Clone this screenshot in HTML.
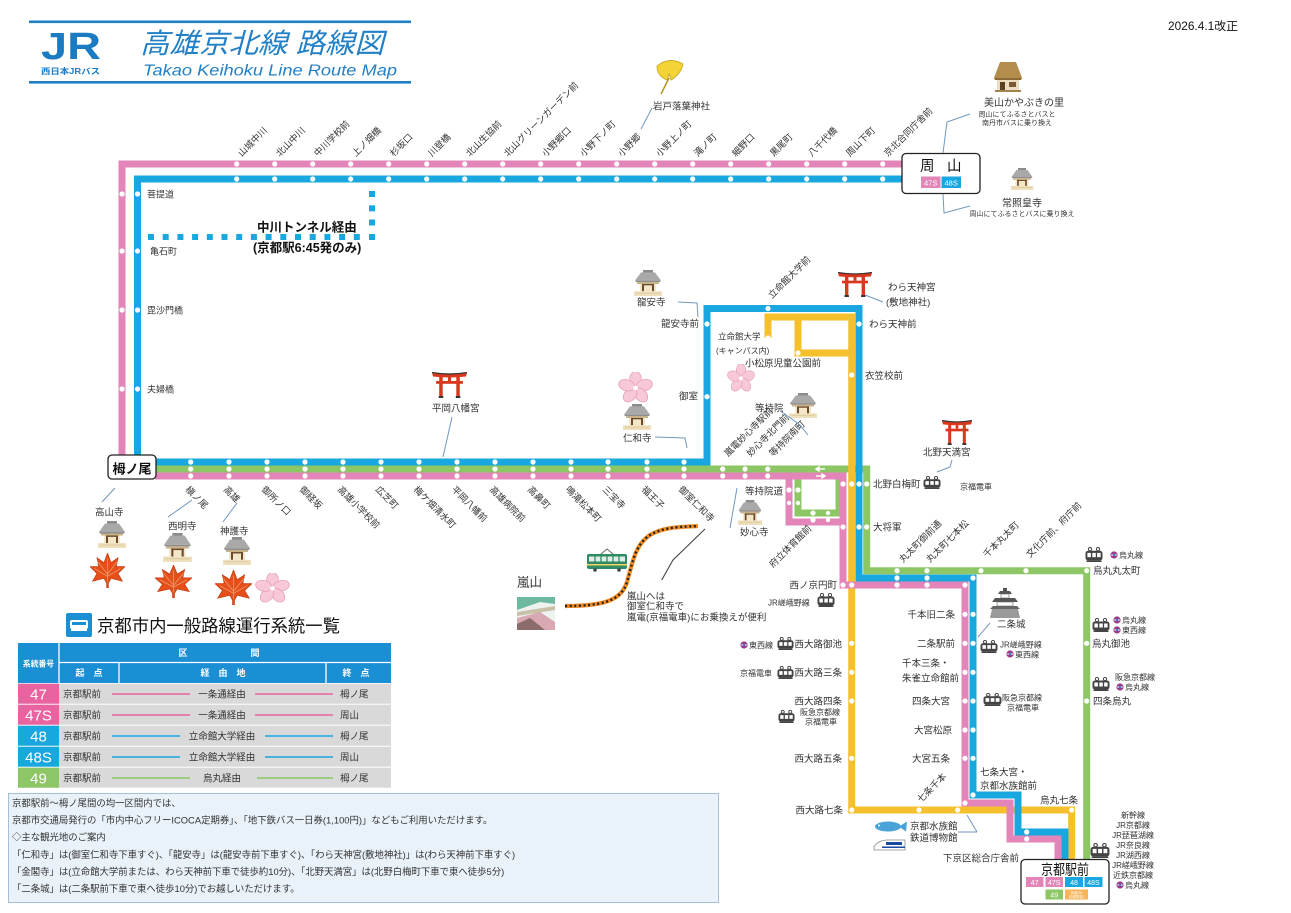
<!DOCTYPE html>
<html><head><meta charset="utf-8"><title>高雄京北線 路線図</title>
<style>
html,body{margin:0;padding:0;background:#fff;width:1291px;height:913px;overflow:hidden}
svg{display:block}
text{font-family:"Liberation Sans","Noto Sans CJK JP",sans-serif;fill:#333}
.l{font-size:9.2px}
.m{font-size:9.5px}
.s{font-size:8px}
.xs{font-size:7px}
.w{fill:#fff}
</style></head><body>
<svg width="1291" height="913" viewBox="0 0 1291 913" xmlns="http://www.w3.org/2000/svg">
<defs>
<symbol id="temple" viewBox="0 0 30 27" preserveAspectRatio="none">
<rect x="10" y="0" width="10" height="3" fill="#8c8c8c"/>
<path d="M2 11 L8 2.5 L22 2.5 L28 11 Z" fill="#a9a9a9"/>
<path d="M2 11 L28 11 L27 12.5 L3 12.5Z" fill="#8d8d8d"/>
<rect x="4" y="12.5" width="22" height="2" fill="#c8b186"/>
<rect x="7" y="14.5" width="16" height="7.5" fill="#f4e6c8"/>
<rect x="9" y="14.5" width="2" height="7.5" fill="#6b4a2a"/>
<rect x="19" y="14.5" width="2" height="7.5" fill="#6b4a2a"/>
<rect x="9" y="14.5" width="12" height="1.4" fill="#6b4a2a"/>
<rect x="1" y="22" width="28" height="5" fill="#efdfbd"/>
<path d="M3 24 H27" stroke="#d8c497" stroke-width="0.8"/>
</symbol>
<symbol id="torii" viewBox="0 0 34 26" preserveAspectRatio="none">
<path d="M0 0.5 Q17 3.5 34 0.5 L33 4.5 Q17 6.5 1 4.5 Z" fill="#d9381e"/>
<path d="M0 0.5 Q17 3.5 34 0.5" stroke="#333" stroke-width="1.2" fill="none"/>
<rect x="4" y="9" width="26" height="2.8" fill="#d9381e"/>
<rect x="7" y="5" width="3.4" height="21" fill="#d9381e"/>
<rect x="23.6" y="5" width="3.4" height="21" fill="#d9381e"/>
<rect x="15.5" y="5" width="3" height="4" fill="#d9381e"/>
<rect x="6.5" y="24" width="4.4" height="2" fill="#333"/>
<rect x="23.1" y="24" width="4.4" height="2" fill="#333"/>
</symbol>
<symbol id="maple" viewBox="0 0 40 36" preserveAspectRatio="none">
<path d="M20 0 L24 10 L32 5 L30 14 L40 14 L32 21 L37 29 L24 26 L21 31 L21 36 L19 36 L19 31 L16 26 L3 29 L8 21 L0 14 L10 14 L8 5 L16 10 Z" fill="#e5501a" stroke="#c63b10" stroke-width="0.8"/>
<path d="M20 30 L20 6 M20 22 L31 9 M20 22 L9 9 M20 24 L35 16 M20 24 L5 16" stroke="#f3a070" stroke-width="0.8" fill="none"/>
</symbol>
<symbol id="sakura" viewBox="0 0 36 34" preserveAspectRatio="none">
<g fill="#f7c9d8" stroke="#e79ab6" stroke-width="0.8">
<ellipse cx="18" cy="8" rx="6" ry="8.5"/>
<ellipse cx="18" cy="8" rx="6" ry="8.5" transform="rotate(72 18 17.5)"/>
<ellipse cx="18" cy="8" rx="6" ry="8.5" transform="rotate(144 18 17.5)"/>
<ellipse cx="18" cy="8" rx="6" ry="8.5" transform="rotate(216 18 17.5)"/>
<ellipse cx="18" cy="8" rx="6" ry="8.5" transform="rotate(288 18 17.5)"/>
</g>
<circle cx="18" cy="17.5" r="2.5" fill="#fff"/>
</symbol>
<symbol id="train" viewBox="0 0 18 14" preserveAspectRatio="none">
<circle cx="5" cy="2" r="1.6" fill="none" stroke="#444" stroke-width="1"/>
<circle cx="13" cy="2" r="1.6" fill="none" stroke="#444" stroke-width="1"/>
<rect x="0.5" y="3.5" width="17" height="9" rx="2.5" fill="#444"/>
<rect x="2.4" y="5.5" width="3.5" height="4" fill="#fff"/>
<rect x="7.3" y="5.5" width="3.5" height="4" fill="#fff"/>
<rect x="12.1" y="5.5" width="3.5" height="4" fill="#fff"/>
<rect x="1.5" y="12.5" width="15" height="1.5" fill="#444"/>
</symbol>
<symbol id="sub" viewBox="0 0 8 8">
<circle cx="4" cy="4" r="3.6" fill="#9b3c84"/>
<path d="M1.3 4 H6.7" stroke="#fff" stroke-width="1.2"/>
<circle cx="4" cy="4" r="1.2" fill="#3b7bd0"/>
</symbol>
</defs>

<!-- Header -->
<rect x="29" y="20.5" width="382" height="2.6" fill="#1f7ec2"/>
<rect x="29" y="81" width="382" height="2.6" fill="#1f7ec2"/>
<text x="41" y="59" font-size="38" font-weight="bold" textLength="60" lengthAdjust="spacingAndGlyphs" style="fill:#1b7bc2">JR</text>
<text x="41" y="74" font-size="8" font-weight="bold" textLength="59" lengthAdjust="spacingAndGlyphs" style="fill:#1b7bc2">西日本JRバス</text>
<text x="140" y="53" font-size="28" font-style="italic" textLength="244" lengthAdjust="spacingAndGlyphs" style="fill:#2280c6">高雄京北線 路線図</text>
<text x="143" y="75.5" font-size="15.5" font-style="italic" textLength="254" lengthAdjust="spacingAndGlyphs" style="fill:#2280c6">Takao Keihoku Line Route Map</text>
<text x="1168" y="30" font-size="11.5" textLength="70" lengthAdjust="spacingAndGlyphs" style="fill:#111">2026.4.1改正</text>

<!-- Route lines -->
<g fill="none" stroke-width="7" stroke-linejoin="miter" stroke-linecap="butt">
<path d="M155 469 H866.7 V570.7 H1086.7 V860" stroke="#8dc765"/>
<path d="M798 469 V513 H839 V469" stroke="#8dc765"/>
<path d="M768 338 V317 H851.7 V810 H1071.7 V860" stroke="#f6bf2c"/>
<path d="M798 317 V353 H851.7" stroke="#f6bf2c"/>
<path d="M902 164 H122 V455" stroke="#e385b8"/>
<path d="M155 476 H843 V585 H965 V803 H1010 V839 H1058 V860" stroke="#e385b8"/>
<path d="M789 476 V522 H843" stroke="#e385b8"/>
<path d="M902 179 H137.5 V462 H707 V308.5 H859 V578 H973 V795 H1018 V832 H1065 V860" stroke="#19a7df"/>
</g>
<!-- tunnel dotted -->
<g fill="#19a7df">
<rect x="148" y="234" width="6" height="6"/><rect x="162.7" y="234" width="6" height="6"/><rect x="177.4" y="234" width="6" height="6"/><rect x="192.1" y="234" width="6" height="6"/><rect x="206.8" y="234" width="6" height="6"/><rect x="221.5" y="234" width="6" height="6"/><rect x="236.2" y="234" width="6" height="6"/><rect x="250.9" y="234" width="6" height="6"/><rect x="265.6" y="234" width="6" height="6"/><rect x="280.3" y="234" width="6" height="6"/><rect x="295" y="234" width="6" height="6"/><rect x="309.7" y="234" width="6" height="6"/><rect x="324.4" y="234" width="6" height="6"/><rect x="339.1" y="234" width="6" height="6"/><rect x="353.8" y="234" width="6" height="6"/><rect x="369" y="234" width="6" height="6"/>
<rect x="369" y="191" width="6" height="6"/><rect x="369" y="205.3" width="6" height="6"/><rect x="369" y="219.5" width="6" height="6"/>
</g>
<text x="257" y="231.5" font-size="12.5" font-weight="bold" style="fill:#111">中川トンネル経由</text>
<text x="253" y="252" font-size="12.5" font-weight="bold" style="fill:#111">(京都駅6:45発のみ)</text>

<!-- Stop dots -->
<g fill="#fff">
<circle cx="236.7" cy="164" r="2.6"/><circle cx="274.7" cy="164" r="2.6"/><circle cx="312.7" cy="164" r="2.6"/><circle cx="350.7" cy="164" r="2.6"/><circle cx="388.7" cy="164" r="2.6"/><circle cx="426.7" cy="164" r="2.6"/><circle cx="464.7" cy="164" r="2.6"/><circle cx="502.7" cy="164" r="2.6"/><circle cx="540.7" cy="164" r="2.6"/><circle cx="578.7" cy="164" r="2.6"/><circle cx="616.7" cy="164" r="2.6"/><circle cx="654.7" cy="164" r="2.6"/><circle cx="692.7" cy="164" r="2.6"/><circle cx="730.7" cy="164" r="2.6"/><circle cx="768.7" cy="164" r="2.6"/><circle cx="806.7" cy="164" r="2.6"/><circle cx="844.7" cy="164" r="2.6"/><circle cx="882.7" cy="164" r="2.6"/>
<circle cx="236.7" cy="179" r="2.6"/><circle cx="274.7" cy="179" r="2.6"/><circle cx="312.7" cy="179" r="2.6"/><circle cx="350.7" cy="179" r="2.6"/><circle cx="388.7" cy="179" r="2.6"/><circle cx="426.7" cy="179" r="2.6"/><circle cx="464.7" cy="179" r="2.6"/><circle cx="502.7" cy="179" r="2.6"/><circle cx="540.7" cy="179" r="2.6"/><circle cx="578.7" cy="179" r="2.6"/><circle cx="616.7" cy="179" r="2.6"/><circle cx="654.7" cy="179" r="2.6"/><circle cx="692.7" cy="179" r="2.6"/><circle cx="730.7" cy="179" r="2.6"/><circle cx="768.7" cy="179" r="2.6"/><circle cx="806.7" cy="179" r="2.6"/><circle cx="844.7" cy="179" r="2.6"/><circle cx="882.7" cy="179" r="2.6"/>
<circle cx="122" cy="194" r="2.6"/><circle cx="137.5" cy="194" r="2.6"/><circle cx="122" cy="251" r="2.6"/><circle cx="137.5" cy="251" r="2.6"/><circle cx="122" cy="310" r="2.6"/><circle cx="137.5" cy="310" r="2.6"/><circle cx="122" cy="389" r="2.6"/><circle cx="137.5" cy="389" r="2.6"/>
<circle cx="190.7" cy="462" r="2.6"/><circle cx="229" cy="462" r="2.6"/><circle cx="267" cy="462" r="2.6"/><circle cx="305" cy="462" r="2.6"/><circle cx="343" cy="462" r="2.6"/><circle cx="381" cy="462" r="2.6"/><circle cx="419" cy="462" r="2.6"/><circle cx="457" cy="462" r="2.6"/><circle cx="495" cy="462" r="2.6"/><circle cx="533" cy="462" r="2.6"/><circle cx="571" cy="462" r="2.6"/><circle cx="608" cy="462" r="2.6"/><circle cx="647" cy="462" r="2.6"/><circle cx="684" cy="462" r="2.6"/>
<circle cx="190.7" cy="469" r="2.6"/><circle cx="229" cy="469" r="2.6"/><circle cx="267" cy="469" r="2.6"/><circle cx="305" cy="469" r="2.6"/><circle cx="343" cy="469" r="2.6"/><circle cx="381" cy="469" r="2.6"/><circle cx="419" cy="469" r="2.6"/><circle cx="457" cy="469" r="2.6"/><circle cx="495" cy="469" r="2.6"/><circle cx="533" cy="469" r="2.6"/><circle cx="571" cy="469" r="2.6"/><circle cx="608" cy="469" r="2.6"/><circle cx="647" cy="469" r="2.6"/><circle cx="684" cy="469" r="2.6"/><circle cx="722.7" cy="469" r="2.6"/><circle cx="745" cy="469" r="2.6"/><circle cx="767.7" cy="469" r="2.6"/>
<circle cx="190.7" cy="476" r="2.6"/><circle cx="229" cy="476" r="2.6"/><circle cx="267" cy="476" r="2.6"/><circle cx="305" cy="476" r="2.6"/><circle cx="343" cy="476" r="2.6"/><circle cx="381" cy="476" r="2.6"/><circle cx="419" cy="476" r="2.6"/><circle cx="457" cy="476" r="2.6"/><circle cx="495" cy="476" r="2.6"/><circle cx="533" cy="476" r="2.6"/><circle cx="571" cy="476" r="2.6"/><circle cx="608" cy="476" r="2.6"/><circle cx="647" cy="476" r="2.6"/><circle cx="684" cy="476" r="2.6"/><circle cx="722.7" cy="476" r="2.6"/><circle cx="745" cy="476" r="2.6"/><circle cx="767.7" cy="476" r="2.6"/>
<circle cx="707" cy="324" r="2.6"/><circle cx="707" cy="396.7" r="2.6"/><circle cx="768" cy="308.5" r="2.6"/><circle cx="859" cy="324" r="2.6"/>
<circle cx="768" cy="338" r="2.6"/><circle cx="798" cy="353" r="2.6"/><circle cx="851.7" cy="375" r="2.6"/>
<circle cx="789" cy="490" r="2.6"/><circle cx="798" cy="490" r="2.6"/><circle cx="789" cy="503" r="2.2"/><circle cx="798" cy="503" r="2.2"/><circle cx="813" cy="513" r="2.6"/><circle cx="828" cy="513" r="2.2"/><circle cx="813" cy="520" r="2.6"/><circle cx="828" cy="520" r="2.2"/>
<circle cx="843" cy="484" r="2.6"/><circle cx="851.7" cy="484" r="2.6"/><circle cx="859" cy="484" r="2.6"/><circle cx="866.7" cy="484" r="2.6"/>
<circle cx="843" cy="527" r="2.6"/><circle cx="859" cy="527" r="2.6"/><circle cx="866.7" cy="527" r="2.6"/>
<circle cx="843" cy="585" r="2.6"/><circle cx="851.7" cy="585" r="2.6"/>
<circle cx="897" cy="570.7" r="2.6"/><circle cx="897" cy="578" r="2.6"/><circle cx="897" cy="585" r="2.6"/>
<circle cx="927" cy="570.7" r="2.6"/><circle cx="927" cy="578" r="2.6"/><circle cx="927" cy="585" r="2.6"/>
<circle cx="981" cy="570.7" r="2.6"/><circle cx="973" cy="578" r="2.6"/><circle cx="965" cy="585" r="2.6"/>
<circle cx="1026" cy="570.7" r="2.6"/><circle cx="1086.7" cy="570.7" r="2.6"/>
<circle cx="965" cy="614.3" r="2.6"/><circle cx="973" cy="614.3" r="2.6"/><circle cx="965" cy="643.3" r="2.6"/><circle cx="973" cy="643.3" r="2.6"/><circle cx="965" cy="672.3" r="2.6"/><circle cx="973" cy="672.3" r="2.6"/><circle cx="965" cy="701" r="2.6"/><circle cx="973" cy="701" r="2.6"/><circle cx="965" cy="730" r="2.6"/><circle cx="973" cy="730" r="2.6"/><circle cx="965" cy="758.3" r="2.6"/><circle cx="973" cy="758.3" r="2.6"/>
<circle cx="851.7" cy="643.3" r="2.6"/><circle cx="851.7" cy="672.3" r="2.6"/><circle cx="851.7" cy="701" r="2.6"/><circle cx="851.7" cy="758.3" r="2.6"/><circle cx="851.7" cy="810" r="2.6"/>
<circle cx="919" cy="810" r="2.6"/><circle cx="957.7" cy="810" r="2.6"/>
<circle cx="973" cy="795" r="2.6"/><circle cx="965" cy="803" r="2.6"/>
<circle cx="1026.7" cy="832" r="2.6"/><circle cx="1026.7" cy="839" r="2.6"/>
<circle cx="1071.7" cy="810" r="2.6"/>
<circle cx="1086.7" cy="643.3" r="2.6"/><circle cx="1086.7" cy="701" r="2.6"/>
</g>
<!-- small arrows on main line -->
<g stroke="#fff" stroke-width="1.4" fill="#fff">
<path d="M816 469 H825"/><path d="M816 469 L819 467 L819 471Z"/>
<path d="M816 476 H825"/><path d="M825 476 L822 474 L822 478Z"/>
</g>

<!-- Terminal boxes -->
<rect x="902" y="153.5" width="78" height="40" rx="4" fill="#fff" stroke="#222" stroke-width="1.3"/>
<text x="920" y="171" font-size="14.5" style="fill:#111">周</text>
<text x="947" y="171" font-size="14.5" style="fill:#111">山</text>
<rect x="921" y="176.5" width="19.5" height="11.5" fill="#e385b8"/>
<rect x="941.5" y="176.5" width="19.5" height="11.5" fill="#19a7df"/>
<text x="930.7" y="185.3" font-size="7.5" text-anchor="middle" class="w">47S</text>
<text x="951.2" y="185.3" font-size="7.5" text-anchor="middle" class="w">48S</text>

<rect x="108" y="455" width="48" height="24" rx="4" fill="#fff" stroke="#222" stroke-width="1.3"/>
<text x="132" y="473.5" font-size="13" font-weight="bold" text-anchor="middle" style="fill:#111">栂ノ尾</text>

<rect x="1021" y="859.5" width="88" height="44.5" rx="4" fill="#fff" stroke="#222" stroke-width="1.3"/>
<text x="1041" y="875" font-size="14.5" textLength="48" lengthAdjust="spacingAndGlyphs" style="fill:#111">京都駅前</text>
<rect x="1026" y="877" width="17.5" height="10" fill="#e385b8"/>
<rect x="1045.5" y="877" width="17.5" height="10" fill="#e385b8"/>
<rect x="1065" y="877" width="18" height="10" fill="#19a7df"/>
<rect x="1084.5" y="877" width="18" height="10" fill="#19a7df"/>
<rect x="1045.5" y="889.5" width="17.5" height="10" fill="#8dc765"/>
<rect x="1065" y="889.5" width="23" height="10" fill="#f6b55a"/>
<g font-size="7" text-anchor="middle">
<text x="1034.7" y="885" class="w">47</text><text x="1054.2" y="885" class="w">47S</text><text x="1074" y="885" class="w">48</text><text x="1093.5" y="885" class="w">48S</text><text x="1054.2" y="897.5" class="w">49</text>
</g>
<text x="1076.5" y="894" font-size="3.2" text-anchor="middle" class="w">快速205</text>
<text x="1076.5" y="898" font-size="3.2" text-anchor="middle" class="w">(京都駅前)</text>

<!-- Top labels -->
<g class="l">
<text transform="translate(241.7,157) rotate(-45)">山城中川</text>
<text transform="translate(279.7,157) rotate(-45)">北山中川</text>
<text transform="translate(317.7,157) rotate(-45)">中川学校前</text>
<text transform="translate(355.7,157) rotate(-45)">上ノ畑橋</text>
<text transform="translate(393.7,157) rotate(-45)">杉坂口</text>
<text transform="translate(431.7,157) rotate(-45)">川登橋</text>
<text transform="translate(469.7,157) rotate(-45)">北山生協前</text>
<text transform="translate(507.7,157) rotate(-45)">北山グリーンガーデン前</text>
<text transform="translate(545.7,157) rotate(-45)">小野郷口</text>
<text transform="translate(583.7,157) rotate(-45)">小野下ノ町</text>
<text transform="translate(621.7,157) rotate(-45)">小野郷</text>
<text transform="translate(659.7,157) rotate(-45)">小野上ノ町</text>
<text transform="translate(697.7,157) rotate(-45)">滝ノ町</text>
<text transform="translate(735.7,157) rotate(-45)">細野口</text>
<text transform="translate(773.7,157) rotate(-45)">黒尾町</text>
<text transform="translate(811.7,157) rotate(-45)">八千代橋</text>
<text transform="translate(849.7,157) rotate(-45)">周山下町</text>
<text transform="translate(887.7,157) rotate(-45)">京北合同庁舎前</text>
</g>
<!-- left labels -->
<g font-size="9">
<text x="147" y="197.5">菩提道</text>
<text x="150" y="254.5">亀石町</text>
<text x="147" y="313.5">毘沙門橋</text>
<text x="147" y="392.5">夫婦橋</text>
</g>
<!-- bottom main labels -->
<g class="l">
<text transform="translate(184.7,490) rotate(45)">槇ノ尾</text>
<text transform="translate(223,490) rotate(45)">高雄</text>
<text transform="translate(261,490) rotate(45)">御所ノ口</text>
<text transform="translate(299,490) rotate(45)">御経坂</text>
<text transform="translate(337,490) rotate(45)">高雄小学校前</text>
<text transform="translate(375,490) rotate(45)">広芝町</text>
<text transform="translate(413,490) rotate(45)">梅ケ畑清水町</text>
<text transform="translate(451,490) rotate(45)">平岡八幡前</text>
<text transform="translate(489,490) rotate(45)">高雄病院前</text>
<text transform="translate(527,490) rotate(45)">高鼻町</text>
<text transform="translate(565,490) rotate(45)">鳴滝松本町</text>
<text transform="translate(602,490) rotate(45)">三宝寺</text>
<text transform="translate(641,490) rotate(45)">福王子</text>
<text transform="translate(678,490) rotate(45)">御室仁和寺</text>
<text transform="translate(728,457) rotate(-45)">嵐電妙心寺駅前</text>
<text transform="translate(750.5,457) rotate(-45)">妙心寺北門前</text>
<text transform="translate(773,457) rotate(-45)">等持院南町</text>
<text transform="translate(772,299) rotate(-45)">立命館大学前</text>
<text transform="translate(773,568) rotate(-45)">府立体育館前</text>
<text transform="translate(903,563) rotate(-45)">丸太町御前通</text>
<text transform="translate(930,563) rotate(-45)">丸太町七本松</text>
<text transform="translate(987,558) rotate(-45)">千本丸太町</text>
<text transform="translate(1030,558) rotate(-45)">文化庁前、府庁前</text>
<text transform="translate(921,803) rotate(-45)">七条千本</text>
</g>

<!-- straight labels -->
<g class="m">
<text x="699" y="327" text-anchor="end">龍安寺前</text>
<text x="698" y="399.5" text-anchor="end">御室</text>
<text x="869" y="327.5">わら天神前</text>
<text x="865" y="379">衣笠校前</text>
<text x="745" y="366.5">小松原児童公園前</text>
<text x="873" y="487.5">北野白梅町</text>
<text x="873" y="530.5">大将軍</text>
<text x="745" y="494.5">等持院道</text>
<text x="740" y="535.5">妙心寺</text>
<text x="837" y="588.5" text-anchor="end">西ノ京円町</text>
<text x="842" y="647.5" text-anchor="end">西大路御池</text>
<text x="842" y="675.8" text-anchor="end">西大路三条</text>
<text x="842" y="704.5" text-anchor="end">西大路四条</text>
<text x="842" y="762" text-anchor="end">西大路五条</text>
<text x="843" y="813.5" text-anchor="end">西大路七条</text>
<text x="955" y="617.8" text-anchor="end">千本旧二条</text>
<text x="955" y="646.8" text-anchor="end">二条駅前</text>
<text x="902" y="666.5">千本三条・</text>
<text x="902" y="681.5">朱雀立命館前</text>
<text x="950" y="704.5" text-anchor="end">四条大宮</text>
<text x="952" y="733.5" text-anchor="end">大宮松原</text>
<text x="950" y="761.8" text-anchor="end">大宮五条</text>
<text x="980" y="775.5">七条大宮・</text>
<text x="980" y="789">京都水族館前</text>
<text x="1040" y="803.5">烏丸七条</text>
<text x="943" y="861.5">下京区総合庁舎前</text>
<text x="910" y="829.5">京都水族館</text>
<text x="910" y="841">鉄道博物館</text>
<text x="997" y="627.5">二条城</text>
<text x="1093" y="573.8">烏丸丸太町</text>
<text x="1092" y="646.8">烏丸御池</text>
<text x="1093" y="704.5">四条烏丸</text>
<text x="95" y="515.5">高山寺</text>
<text x="168" y="529.5">西明寺</text>
<text x="220" y="534.5">神護寺</text>
<text x="432" y="411.5">平岡八幡宮</text>
<text x="637" y="305.5">龍安寺</text>
<text x="888" y="290.5">わら天神宮</text>
<text x="886" y="305.5">(敷地神社)</text>
<text x="623" y="441.5">仁和寺</text>
<text x="755" y="411.5">等持院</text>
<text x="923" y="455.5">北野天満宮</text>
<text x="653" y="109.5">岩戸落葉神社</text>
<text x="627" y="599.5">嵐山へは</text>
<text x="627" y="609.5">御室仁和寺で</text>
<text x="627" y="620.5">嵐電(京福電車)にお乗換えが便利</text>
</g>
<text x="718" y="339.5" font-size="8.5">立命館大学</text>
<text x="716" y="353.5" font-size="8">(キャンパス内)</text>
<text x="984" y="106" font-size="10">美山かやぶきの里</text>
<text x="1017" y="116.5" class="xs" text-anchor="middle">周山にてふるさとバスと</text>
<text x="1017" y="125" class="xs" text-anchor="middle">南丹市バスに乗り換え</text>
<text x="1022" y="206.5" font-size="10" text-anchor="middle">常照皇寺</text>
<text x="1022" y="216" class="xs" text-anchor="middle">周山にてふるさとバスに乗り換え</text>
<text x="517" y="586.5" font-size="12.5">嵐山</text>

<!-- railway transfer small labels -->
<g class="s">
<text x="960" y="489.5">京福電車</text>
<text x="768" y="605.5">JR嵯峨野線</text>
<text x="749" y="648">東西線</text>
<text x="772" y="676" text-anchor="end">京福電車</text>
<text x="800" y="715">阪急京都線</text>
<text x="805" y="724.5">京福電車</text>
<text x="1000" y="647.5">JR嵯峨野線</text>
<text x="1015" y="657.5">東西線</text>
<text x="1002" y="700.5">阪急京都線</text>
<text x="1007" y="710.5">京福電車</text>
<text x="1119" y="558">烏丸線</text>
<text x="1122" y="623">烏丸線</text>
<text x="1122" y="633">東西線</text>
<text x="1115" y="680">阪急京都線</text>
<text x="1125" y="690">烏丸線</text>
<g text-anchor="middle">
<text x="1133" y="818">新幹線</text>
<text x="1133" y="828">JR京都線</text>
<text x="1133" y="838">JR琵琶湖線</text>
<text x="1133" y="848">JR奈良線</text>
<text x="1133" y="858">JR湖西線</text>
<text x="1133" y="868">JR嵯峨野線</text>
<text x="1133" y="878">近鉄京都線</text>
<text x="1137" y="888">烏丸線</text>
</g>
</g>
<use href="#sub" x="740" y="641" width="8" height="8"/>
<use href="#sub" x="1006" y="650" width="8" height="8"/>
<use href="#sub" x="1110" y="551" width="8" height="8"/>
<use href="#sub" x="1113" y="616" width="8" height="8"/>
<use href="#sub" x="1113" y="626" width="8" height="8"/>
<use href="#sub" x="1116" y="683" width="8" height="8"/>
<use href="#sub" x="1116" y="881" width="8" height="8"/>

<!-- trains -->
<use href="#train" x="923" y="476" width="18" height="13"/>
<use href="#train" x="817" y="593" width="18" height="14"/>
<use href="#train" x="777" y="637" width="17" height="13"/>
<use href="#train" x="777" y="666" width="17" height="13"/>
<use href="#train" x="778" y="710" width="17" height="13"/>
<use href="#train" x="980" y="640" width="18" height="13"/>
<use href="#train" x="983" y="693" width="19" height="13"/>
<use href="#train" x="1085" y="547" width="18" height="15"/>
<use href="#train" x="1092" y="618" width="18" height="14"/>
<use href="#train" x="1092" y="677" width="18" height="14"/>
<use href="#train" x="1090" y="843" width="20" height="15"/>

<!-- icons -->
<use href="#temple" x="633" y="270" width="30" height="26"/>
<use href="#temple" x="622" y="404" width="30" height="26"/>
<use href="#temple" x="788" y="393" width="30" height="25"/>
<use href="#temple" x="737" y="500" width="26" height="25"/>
<use href="#temple" x="97" y="521" width="30" height="27"/>
<use href="#temple" x="162" y="533" width="31" height="29"/>
<use href="#temple" x="222" y="537" width="30" height="28"/>
<use href="#temple" x="1010" y="168" width="24" height="22"/>
<use href="#torii" x="838" y="272" width="34" height="25"/>
<use href="#torii" x="432" y="372" width="35" height="26"/>
<use href="#torii" x="942" y="420" width="30" height="25"/>
<use href="#maple" x="90" y="553" width="35" height="35"/>
<use href="#maple" x="155" y="565" width="37" height="33"/>
<use href="#maple" x="215" y="570" width="37" height="35"/>
<use href="#sakura" x="255" y="573" width="35" height="30"/>
<use href="#sakura" x="618" y="372" width="35" height="31"/>
<use href="#sakura" x="727" y="364" width="28" height="28"/>

<!-- ginkgo -->
<g transform="translate(653,60)">
<path d="M4 6 Q16 -4 30 4 Q28 14 18 20 L16 14 L14 20 Q4 16 4 6Z" fill="#f3d335" stroke="#c9a51a" stroke-width="0.8"/>
<path d="M16 18 L8 34" stroke="#b8951a" stroke-width="1.5"/>
</g>
<!-- thatched house -->
<g transform="translate(994,62)">
<path d="M6 0 H22 L28 16 H0 Z" fill="#b48d4c"/>
<path d="M0 16 H28 L27 18 H1Z" fill="#8b6a35"/>
<rect x="3" y="18" width="22" height="10" fill="#e9dcc0"/>
<rect x="6" y="20" width="5" height="8" fill="#5a4124"/>
<rect x="15" y="20" width="7" height="5" fill="#7a5a34"/>
<rect x="1" y="28" width="26" height="2" fill="#a08552"/>
</g>
<!-- castle -->
<g transform="translate(990,588)">
<path d="M10 3 L20 3 L22 6 L8 6Z" fill="#555"/>
<path d="M13 0 L17 0 L17 3 L13 3Z" fill="#555"/>
<rect x="11" y="6" width="8" height="4" fill="#fff" stroke="#666" stroke-width="0.6"/>
<path d="M5 10 L25 10 L28 14 L2 14Z" fill="#555"/>
<rect x="7" y="14" width="16" height="4" fill="#fff" stroke="#666" stroke-width="0.6"/>
<path d="M3 18 L27 18 L30 21 L0 21Z" fill="#666"/>
<path d="M2 21 L28 21 L30 30 L0 30Z" fill="#9a9a9a"/>
</g>
<!-- fish & shinkansen -->
<g transform="translate(872,821)">
<ellipse cx="16" cy="5.5" rx="13" ry="5" fill="#4aa3d8"/>
<path d="M27 5.5 L35 0.5 L34 10.5Z" fill="#4aa3d8"/>
<circle cx="7" cy="4.5" r="1" fill="#fff"/>
</g>
<g transform="translate(872,839)">
<path d="M2 8 Q6 1 16 1 H33 V11 H2 Z" fill="#fff" stroke="#888" stroke-width="0.8"/>
<rect x="14" y="3" width="16" height="3" fill="#1a4aa0"/>
<rect x="10" y="7.5" width="23" height="1.5" fill="#1a4aa0"/>
</g>
<!-- arashiyama -->
<path d="M565 606 C600 606 621 602 627 582 C633 561 635 545 650 535 C665 526 685 527 698 526" fill="none" stroke="#ef8a22" stroke-width="4.2"/>
<path d="M565 606 C600 606 621 602 627 582 C633 561 635 545 650 535 C665 526 685 527 698 526" fill="none" stroke="#222" stroke-width="2.4" stroke-dasharray="2 2.6"/>
<g transform="translate(587,549)">
<path d="M14 5 L20 0 L26 5" stroke="#666" stroke-width="1" fill="none"/>
<rect x="0" y="5" width="40" height="15" rx="2" fill="#2f8b61"/>
<rect x="2" y="7.5" width="36" height="5" fill="#dfeee6"/>
<path d="M8 7.5 V12.5 M14 7.5 V12.5 M20 7.5 V12.5 M26 7.5 V12.5 M32 7.5 V12.5" stroke="#2f8b61" stroke-width="1.3"/>
<rect x="0" y="15" width="40" height="1.5" fill="#f1d56a"/>
<circle cx="8" cy="21" r="1.8" fill="#444"/><circle cx="32" cy="21" r="1.8" fill="#444"/>
</g>
<g>
<rect x="517" y="597" width="38" height="33" fill="#eef3ef"/>
<path d="M517 597 H555 V604 L540 602 L517 610Z" fill="#6fb8a0"/>
<path d="M517 612 L555 606 V610 L517 616Z" fill="#c9c0a8"/>
<path d="M517 618 L540 612 L555 622 V630 H517Z" fill="#d8a9b3"/>
<path d="M517 624 L530 618 L545 630 H517Z" fill="#8c6b6b"/>
</g>

<!-- connector lines -->
<g fill="none" stroke="#6f98bf" stroke-width="1">
<polyline points="943,153 947,122 970,114"/>
<polyline points="943,194 944,213 970,206"/>
<polyline points="641,129 652,108"/>
<polyline points="678,302 697,303 698,317"/>
<polyline points="865,295 883,302"/>
<polyline points="655,437 685,438 687,448"/>
<polyline points="782,412 800,425 808,435"/>
<polyline points="952,460 950,467 937,472"/>
<polyline points="452,417 443,457"/>
<polyline points="102,502 115,488"/>
<polyline points="168,517 192,500"/>
<polyline points="223,522 237,503"/>
<polyline points="737,488 730,528"/>
<polyline points="990,623 978,637"/>
<polyline points="967,815 977,832"/>
<polyline points="958,832 977,832"/>
</g>
<polyline points="661.7,580 673,560 705,529" fill="none" stroke="#444" stroke-width="1.1"/>

<!-- Route table -->
<rect x="66" y="613" width="26" height="24" rx="2" fill="#1b8fd4"/>
<rect x="70" y="620" width="18" height="9" rx="2" fill="#fff"/>
<rect x="72" y="622" width="14" height="3" fill="#1b8fd4"/>
<rect x="71" y="629" width="16" height="2" fill="#fff"/>
<text x="97" y="632" font-size="17.5" textLength="243" lengthAdjust="spacingAndGlyphs" style="fill:#111">京都市内一般路線運行系統一覧</text>

<rect x="18" y="643" width="373" height="40" fill="#1b8fd4"/>
<g stroke="#fff" stroke-width="1.3">
<path d="M59 643 V683 M59 662.5 H391 M119 662.5 V683 M326 662.5 V683"/>
</g>
<g font-weight="bold" text-anchor="middle" class="w">
<text x="38.5" y="666.5" font-size="7.8" class="w">系統番号</text>
<text x="183" y="656" font-size="9" class="w">区</text>
<text x="255" y="656" font-size="9" class="w">間</text>
<text x="89" y="676" font-size="9" class="w">起　点</text>
<text x="223" y="676" font-size="9" class="w">経　由　地</text>
<text x="356" y="676" font-size="9" class="w">終　点</text>
</g>
<g>
<rect x="18" y="683.7" width="373" height="20" fill="#d9d9d9"/>
<rect x="18" y="704.7" width="373" height="20" fill="#d9d9d9"/>
<rect x="18" y="725.7" width="373" height="20" fill="#d9d9d9"/>
<rect x="18" y="746.7" width="373" height="20" fill="#d9d9d9"/>
<rect x="18" y="767.7" width="373" height="20" fill="#d9d9d9"/>
<rect x="18" y="683.7" width="41" height="20" fill="#e8639f"/>
<rect x="18" y="704.7" width="41" height="20" fill="#e8639f"/>
<rect x="18" y="725.7" width="41" height="20" fill="#19a7df"/>
<rect x="18" y="746.7" width="41" height="20" fill="#19a7df"/>
<rect x="18" y="767.7" width="41" height="20" fill="#8dc765"/>
</g>
<g font-size="15" text-anchor="middle" class="w">
<text x="38.5" y="699.5" class="w">47</text>
<text x="38.5" y="720.5" class="w">47S</text>
<text x="38.5" y="741.5" class="w">48</text>
<text x="38.5" y="762.5" class="w">48S</text>
<text x="38.5" y="783.5" class="w">49</text>
</g>
<g font-size="9.5">
<text x="63" y="697.5">京都駅前</text><text x="63" y="718.5">京都駅前</text><text x="63" y="739.5">京都駅前</text><text x="63" y="760.5">京都駅前</text><text x="63" y="781.5">京都駅前</text>
<text x="340" y="697.5">栂ノ尾</text><text x="340" y="718.5">周山</text><text x="340" y="739.5">栂ノ尾</text><text x="340" y="760.5">周山</text><text x="340" y="781.5">栂ノ尾</text>
<g text-anchor="middle">
<text x="222" y="697.5">一条通経由</text>
<text x="222" y="718.5">一条通経由</text>
<text x="222" y="739.5">立命館大学経由</text>
<text x="222" y="760.5">立命館大学経由</text>
<text x="222" y="781.5">烏丸経由</text>
</g>
</g>
<g stroke-width="1.6">
<path d="M112 694 H190 M255 694 H333" stroke="#e8639f"/>
<path d="M112 715 H190 M255 715 H333" stroke="#e8639f"/>
<path d="M112 736 H180 M265 736 H333" stroke="#19a7df"/>
<path d="M112 757 H180 M265 757 H333" stroke="#19a7df"/>
<path d="M112 778 H190 M257 778 H333" stroke="#8dc765"/>
</g>

<!-- Notes -->
<rect x="8.5" y="793.5" width="710" height="109" fill="#e9f1f9" stroke="#a3bfd9" stroke-width="1"/>
<g font-size="9.4" style="fill:#333">
<text x="12" y="806.5">京都駅前～栂ノ尾間の均一区間内では、</text>
<text x="12" y="823.5">京都市交通局発行の「市内中心フリーICOCA定期券」、「地下鉄バス一日券(1,100円)」などもご利用いただけます。</text>
<text x="12" y="840.5">◇主な観光地のご案内</text>
<text x="12" y="858">「仁和寺」は(御室仁和寺下車すぐ)、「龍安寺」は(龍安寺前下車すぐ)、「わら天神宮(敷地神社)」は(わら天神前下車すぐ)</text>
<text x="12" y="875">「金閣寺」は(立命館大学前または、わら天神前下車で徒歩約10分)、「北野天満宮」は(北野白梅町下車で東へ徒歩5分)</text>
<text x="12" y="892">「二条城」は(二条駅前下車で東へ徒歩10分)でお越しいただけます。</text>
</g>
</svg>
</body></html>
